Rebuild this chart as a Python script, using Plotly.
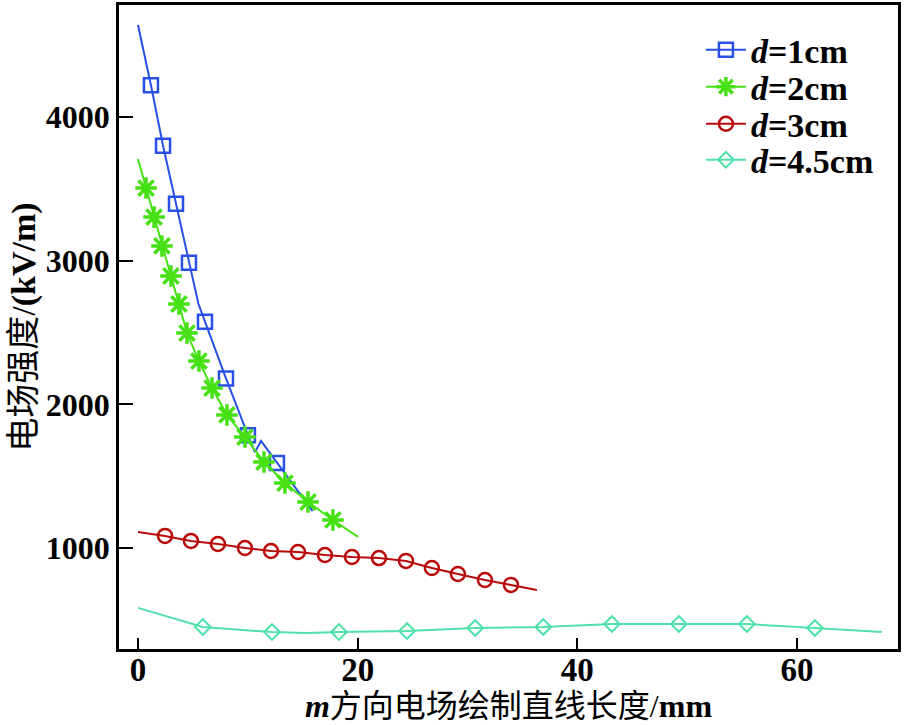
import plotly.graph_objects as go

# ---- data ----
# d = 1 cm
d1_mx = [1.18, 2.28, 3.46, 4.64, 6.10, 8.01, 10.01, 12.65]
d1_my = [4220, 3800, 3395, 2985, 2575, 2180, 1785, 1592]
d1_lx = [0.0, 1.18, 2.28, 3.46, 4.64, 5.5, 6.10, 8.01, 10.01, 10.65, 11.2, 12.65, 15.9]
d1_ly = [4640, 4220, 3800, 3395, 2985, 2700, 2575, 2180, 1785, 1667, 1745, 1592, 1257]

# d = 2 cm
d2_mx = [0.73, 1.46, 2.18, 3.00, 3.73, 4.46, 5.55, 6.74, 8.10, 9.74, 11.47, 13.38, 15.48, 17.75]
d2_my = [3505, 3303, 3102, 2893, 2698, 2496, 2301, 2113, 1926, 1772, 1598, 1452, 1320, 1195]
d2_lx = [0.0] + d2_mx + [20.03]
d2_ly = [3707] + d2_my + [1077]

# d = 3 cm
d3_mx = [2.46, 4.82, 7.28, 9.74, 12.11, 14.57, 17.02, 19.48, 21.94, 24.40, 26.76, 29.13, 31.59, 33.96]
d3_my = [1084, 1049, 1028, 1000, 979, 972, 951, 937, 930, 910, 861, 819, 777, 743]
d3_lx = [0.0] + d3_mx + [36.32]
d3_ly = [1111] + d3_my + [708]

# d = 4.5 cm
d4_mx = [5.9, 12.2, 18.3, 24.5, 30.7, 36.9, 43.15, 49.25, 55.44, 61.63]
d4_my = [450, 415, 415, 422, 443, 450, 471, 471, 471, 443]
d4_lx = [0.0, 5.9, 12.2, 15.3, 18.3, 24.5, 30.7, 36.9, 43.15, 49.25, 55.44, 61.63, 67.73]
d4_ly = [583, 450, 415, 408, 415, 422, 443, 450, 471, 471, 471, 443, 415]

names = ["<b><i>d</i>=1cm</b>", "<b><i>d</i>=2cm</b>", "<b><i>d</i>=3cm</b>", "<b><i>d</i>=4.5cm</b>"]
colors = ["rgb(40,80,230)", "rgb(70,225,20)", "rgb(185,10,10)", "rgb(80,225,170)"]
symbols = ["square-open", "asterisk-open", "circle-open", "diamond-open"]
msizes = [14, 18, 14, 12]
mwidths = [2.5, 3.5, 2.5, 2.0]

x_ticks = [0, 20, 40, 60]
y_ticks = [1000, 2000, 3000, 4000]

series = [
    (d1_lx, d1_ly, d1_mx, d1_my),
    (d2_lx, d2_ly, d2_mx, d2_my),
    (d3_lx, d3_ly, d3_mx, d3_my),
    (d4_lx, d4_ly, d4_mx, d4_my),
]

serif = "Liberation Serif, Times New Roman, Noto Sans CJK SC, serif"
legend_ids = ["legend", "legend2", "legend3", "legend4"]
legend_y = [0.930, 0.8726, 0.815, 0.759]

fig = go.Figure()
for i, (lx, ly, mx, my) in enumerate(series):
    fig.add_trace(go.Scatter(x=lx, y=ly, mode="lines",
                             line=dict(color=colors[i], width=2),
                             showlegend=False, hoverinfo="skip"))
    fig.add_trace(go.Scatter(x=mx, y=my, mode="markers",
                             marker=dict(symbol=symbols[i], size=msizes[i], color=colors[i],
                                         line=dict(color=colors[i], width=mwidths[i])),
                             showlegend=False))
    fig.add_trace(go.Scatter(x=[None], y=[None], mode="lines+markers", name=names[i],
                             legend=legend_ids[i],
                             line=dict(color=colors[i], width=2),
                             marker=dict(symbol=symbols[i], size=msizes[i], color=colors[i],
                                         line=dict(color=colors[i], width=mwidths[i]))))

legend_common = dict(x=0.747, xanchor="left", yanchor="middle",
                     font=dict(family=serif, size=34, color="black"),
                     bgcolor="rgba(0,0,0,0)", itemwidth=40)

fig.update_layout(
    width=904, height=725,
    margin=dict(l=119, r=6, t=5, b=76, autoexpand=False),
    plot_bgcolor="white", paper_bgcolor="white",
    font=dict(family=serif, color="black", size=28),
    showlegend=True,
    legend=dict(y=legend_y[0], **legend_common),
    legend2=dict(y=legend_y[1], **legend_common),
    legend3=dict(y=legend_y[2], **legend_common),
    legend4=dict(y=legend_y[3], **legend_common),
    xaxis=dict(range=[-1.73, 69.2], tickvals=x_ticks, ticktext=["<b>%d</b>" % v for v in x_ticks],
               automargin=False,
               showgrid=False, zeroline=False, showline=True, linecolor="black", linewidth=2.5,
               mirror=True, ticks="inside", ticklen=11, tickwidth=2, tickcolor="black",
               tickfont=dict(family=serif, size=33), ticklabelstandoff=-10,
               title=dict(text="<b><i>m</i></b>方向电场绘制直线长度/<b>mm</b>",
                          font=dict(family=serif, size=32), standoff=0)),
    yaxis=dict(range=[297, 4779], tickvals=y_ticks, ticktext=["<b>%d</b>" % v for v in y_ticks],
               automargin=False,
               showgrid=False, zeroline=False, showline=True, linecolor="black", linewidth=2.5,
               mirror=True, ticks="inside", ticklen=14, tickwidth=2, tickcolor="black",
               tickfont=dict(family=serif, size=32),
               title=dict(text="电场强度/<b>(kV/m)</b>", font=dict(family=serif, size=34), standoff=0)),
)

fig.write_html("out.html", config={"displayModeBar": False},
               post_script="document.body.style.margin='0px';")
